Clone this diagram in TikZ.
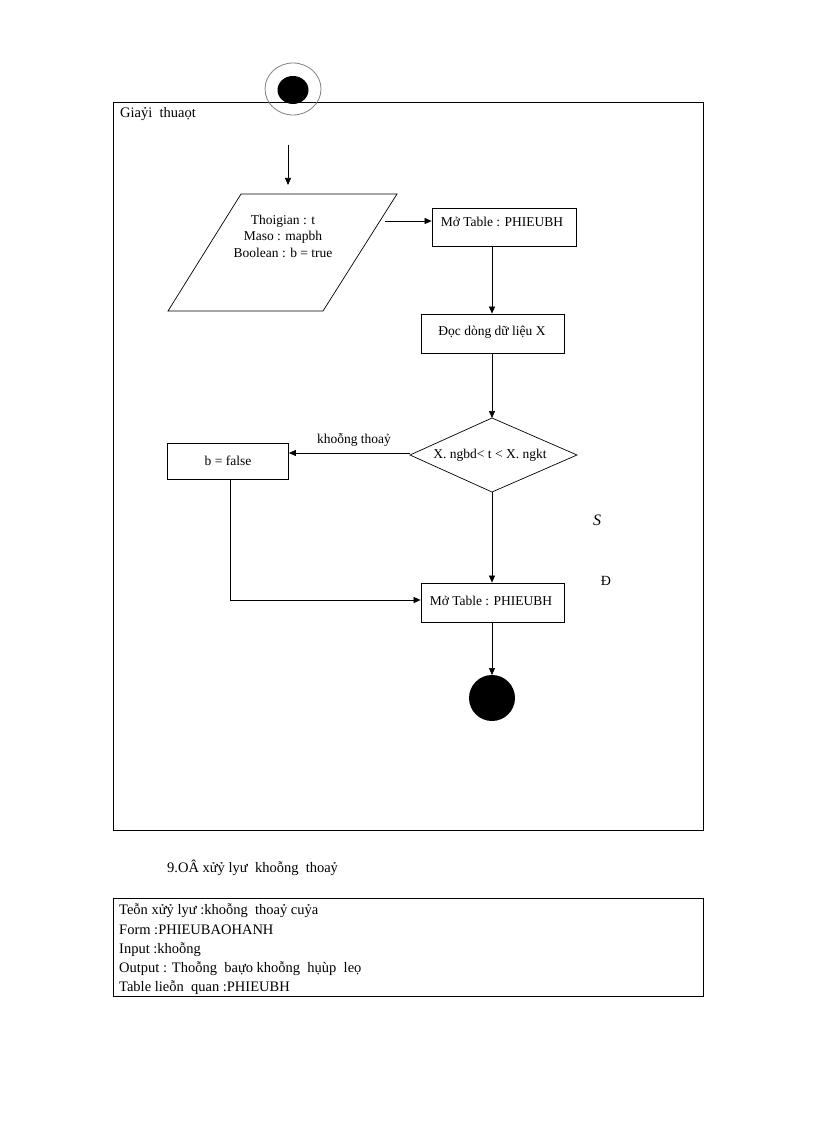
\documentclass[tikz,border=0pt]{standalone}
\usepackage{fontspec}
\setmainfont{Liberation Serif}
\usetikzlibrary{arrows.meta,shapes.geometric}
\begin{document}
\begin{tikzpicture}[x=1pt,y=-1pt,
  line/.style={draw=black,line width=0.7pt},
  arr/.style={line,-{Triangle[length=7pt,width=6pt]}},
  box/.style={draw=black,line width=0.8pt,fill=white,inner sep=0pt},
  txt/.style={font=\fontsize{13.5}{16.5}\selectfont,inner sep=0pt},
  big/.style={font=\fontsize{14.5}{17}\selectfont,inner sep=0pt,anchor=west}]
\useasboundingbox (0,0) rectangle (816,1123);
% outer frame
\draw[line width=0.8pt] (113,102) rectangle (703,830);
% start
\draw[gray,line width=0.8pt] (293,89) ellipse (28 and 26);
\fill[black] (293,90) ellipse (15.5 and 14);
\node[big] (title) at (120,114) {Giaỷi\ \ thuaọt};
\coordinate (s0) at (288,145);
\coordinate (s1) at (288,185);
\draw[arr] (s0) -- (s1);
% parallelogram
\coordinate (pa) at (241,194);
\coordinate (pb) at (397,194);
\coordinate (pc) at (323,311);
\coordinate (pd) at (168,311);
\draw[line] (pa) -- (pb) -- (pc) -- (pd) -- cycle;
\node[txt,align=center] (ptxt) at (283,236) {Thoigian : t\\Maso : mapbh\\Boolean : b = true};
\coordinate (pr) at (385,221);
% boxes
\node[box,minimum width=144pt,minimum height=38pt] (b1) at (504,227) {};
\node[txt] at (502,222) {Mở Table : PHIEUBH};
\node[box,minimum width=143pt,minimum height=39pt] (b2) at (492.5,333.5) {};
\node[txt] at (492,332) {Đọc dòng dữ liệu X};
\coordinate (dt) at (492,418);
\coordinate (dl) at (410,455);
\coordinate (dr) at (577,455);
\coordinate (db) at (492,492);
\draw[line] (dt) -- (dr) -- (db) -- (dl) -- cycle;
\node[txt] (dtxt) at (490,455) {X. ngbd< t < X. ngkt};
\node[box,minimum width=121pt,minimum height=36pt] (bf) at (228,461) {};
\node[txt] at (bf) {b = false};
\node[box,minimum width=143pt,minimum height=39pt] (b3) at (492.5,602.5) {};
\node[txt] at (491,601) {Mở Table : PHIEUBH};
\fill[black] (492,698) circle (23) coordinate (endc);
\coordinate (ec) at (492,675);
% connectors
\draw[arr] (pr) -- (b1.west |- pr);
\draw[arr] (b1.south -| dt) -- (b2.north -| dt);
\draw[arr] (b2.south -| dt) -- (dt);
\coordinate (dl2) at (410,453);
\draw[arr] (dl2) -- (bf.east |- dl2);
\node[txt] (lk) at (354,440) {khoỗng thoaỷ};
\coordinate (bfb) at (230,479);
\coordinate (bfc) at (230,600);
\draw[line] (bf.south -| bfb) -- (bfc);
\draw[arr] (bfc) -- (b3.west |- bfc);
\draw[arr] (db) -- (b3.north -| db);
\draw[arr] (b3.south -| db) -- (ec);
\node[font=\fontsize{16}{18}\selectfont\itshape,inner sep=0pt] (S) at (597,520) {S};
\node[font=\fontsize{14}{16}\selectfont,inner sep=0pt] (D) at (606,581) {Đ};
% caption and table
\node[big] (cap) at (167,868) {9.OÂ xửỷ lyư\ \ khoỗng\ \ thoaỷ};
\draw[line width=0.8pt] (113,898) rectangle (703,996);
\node[big] (t1) at (119,911) {Teỗn\ xửỷ\ lyư\ :khoỗng\ \ thoaỷ\ cuỷa};
\node[big] (t2) at (119,930) {Form :PHIEUBAOHANH};
\node[big] (t3) at (119,950) {Input :khoỗng};
\node[big] (t4) at (119,969) {Output : Thoỗng\ \ baựo khoỗng\ \ hụùp\ \ leọ};
\node[big] (t5) at (119,988) {Table lieỗn\ \ quan :PHIEUBH};
\end{tikzpicture}
\end{document}
